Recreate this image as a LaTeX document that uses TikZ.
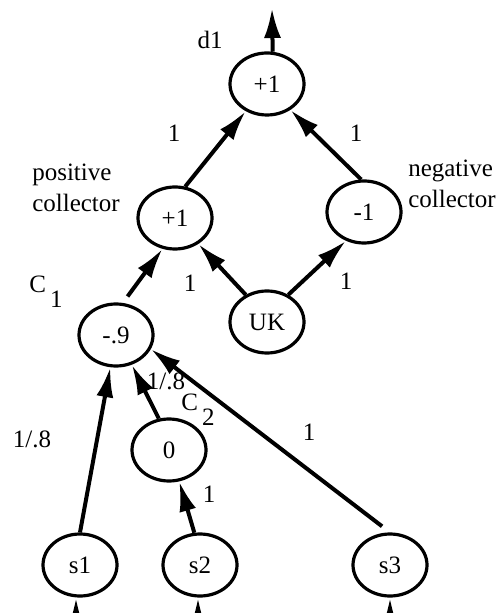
\documentclass[tikz,border=0pt]{standalone}
\usepackage{fontspec}
\setmainfont{Liberation Serif}
\usetikzlibrary{shapes.geometric, arrows.meta}

\tikzset{
    unit/.style={ellipse, draw, line width=1.6pt, minimum width=37pt, minimum height=31pt, inner sep=0pt},
    conn/.style={line width=2pt, -{Latex[length=15pt, width=8.5pt]}},
    wlab/.style={inner sep=0pt},
}

\begin{document}
\begin{tikzpicture}[x=0.5pt, y=-0.5pt, font=\fontsize{12.5}{15.5}\selectfont]
    \useasboundingbox (0,0) rectangle (497,613);
    % units
    \node [unit] (d1node) at (267,84) {+1}; % output unit
    \node [unit] (pos) at (175,218) {+1}; % positive collector
    \node [unit] (neg) at (364,212) {-1}; % negative collector
    \node [unit] (uk) at (267,322) {UK}; % UK unit
    \node [unit] (cone) at (116,335) {-.9\hspace{8pt}}; % C1
    \node [unit] (ctwo) at (169,450) {0}; % C2
    \node [unit] (s1) at (80,565) {s1}; % input s1
    \node [unit] (s2) at (200,565) {s2}; % input s2
    \node [unit] (s3) at (390,565) {s3}; % input s3
    \coordinate (dout) at (272,8); % output arrow end
    % labels
    \node [wlab] (dlab) at (210,40) {d1};
    \node [wlab, align=left] (poslab) at (76,188) {positive\\collector};
    \node [wlab, align=left] (neglab) at (452,184) {negative\\collector};
    \node [wlab] (conelab) at (46,292) {C\,\raisebox{-1.3ex}{1}};
    \node [wlab] (ctwolab) at (198,410) {C\,\raisebox{-1.3ex}{2}};
    \node [wlab] (wpd) at (174,133) {1};
    \node [wlab] (wnd) at (356,133) {1};
    \node [wlab] (wup) at (190,283) {1};
    \node [wlab] (wun) at (346,281) {1};
    \node [wlab] (wsa) at (32,439) {1/.8};
    \node [wlab] (wct) at (166,381) {1/.8};
    \node [wlab] (wsc) at (309,432) {1};
    \node [wlab] (wsb) at (209,494) {1};
    % connections
    \draw [conn] (d1node.80) -- (dout);
    \draw [conn] (pos.72) -- (d1node.-128);
    \draw [conn] (neg.95) -- (d1node.-48);
    \draw [conn] (uk.128) -- (pos.-48);
    \draw [conn] (uk.52) -- (neg.-122);
    \draw [conn, shorten <=4pt] (cone.78) -- (pos.-112);
    \draw [conn] (s1.north) -- (cone.-100);
    \draw [conn] (ctwo.108) -- (cone.-62);
    \draw [conn, shorten <=5pt] (s3.north) -- (cone.-22);
    \draw [conn] (s2.100) -- (ctwo.-72);
    % inputs from below
    \begin{scope}
        \clip (0,0) rectangle (497,613);
        \coordinate (ina) at (76,650);
        \coordinate (inb) at (198,650);
        \coordinate (inc) at (390,650);
        \draw [conn] (ina) -- (ina |- s1.south);
        \draw [conn] (inb) -- (inb |- s2.south);
        \draw [conn] (inc) -- (inc |- s3.south);
    \end{scope}
\end{tikzpicture}
\end{document}
